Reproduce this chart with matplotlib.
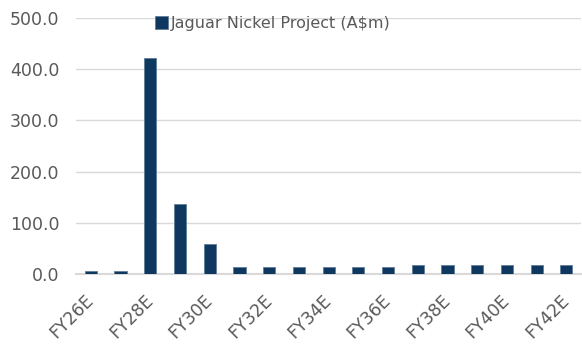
import matplotlib
matplotlib.use("Agg")
import matplotlib.pyplot as plt
import numpy as np

# Datos
years = ["FY26E", "FY27E", "FY28E", "FY29E", "FY30E", "FY31E", "FY32E", "FY33E", "FY34E",
         "FY35E", "FY36E", "FY37E", "FY38E", "FY39E", "FY40E", "FY41E", "FY42E"]
values = [6.5, 6.5, 421.0, 136.0, 58.0, 14.0, 14.0, 14.0, 14.0,
          14.0, 14.0, 17.5, 17.5, 17.5, 17.5, 17.5, 17.5]
series_name = "Jaguar Nickel Project (A$m)"

bar_color = "#0F3860"
text_color = "#595959"
grid_color = "#D9D9D9"

fig = plt.figure(figsize=(5.82, 3.45), dpi=100)
ax = fig.add_axes([0.1306, 0.2058, 0.868, 0.7422])

x = np.arange(len(years))
ax.bar(x, values, width=0.41, color=bar_color, edgecolor="#5F7C99", linewidth=0.6,
       label=series_name, zorder=3)

ax.set_xlim(-0.5, len(years) - 0.5)
ax.set_ylim(0, 500)
ax.set_yticks(np.arange(0, 501, 100))
ax.set_yticklabels([f"{v:.1f}" for v in np.arange(0, 501, 100)])

ax.set_xticks(x[::2])
ax.set_xticklabels(years[::2], rotation=45, ha="right", va="center", rotation_mode="anchor")

ax.grid(axis="y", color=grid_color, linewidth=1.0, zorder=0)
for s in ["top", "right", "left"]:
    ax.spines[s].set_visible(False)
ax.spines["bottom"].set_color(grid_color)
ax.spines["bottom"].set_linewidth(1.5)
ax.spines["bottom"].set_zorder(2)

ax.tick_params(axis="both", length=0, colors=text_color, labelsize=12.5)
ax.tick_params(axis="y", pad=12)
ax.tick_params(axis="x", pad=17)

fig.legend(loc="center left", bbox_to_anchor=(0.255, 0.932), frameon=False,
           fontsize=11.5, labelcolor=text_color, handlelength=0.8, handleheight=0.8,
           handletextpad=0.2, borderaxespad=0)

fig.savefig("out.png", dpi=100)
